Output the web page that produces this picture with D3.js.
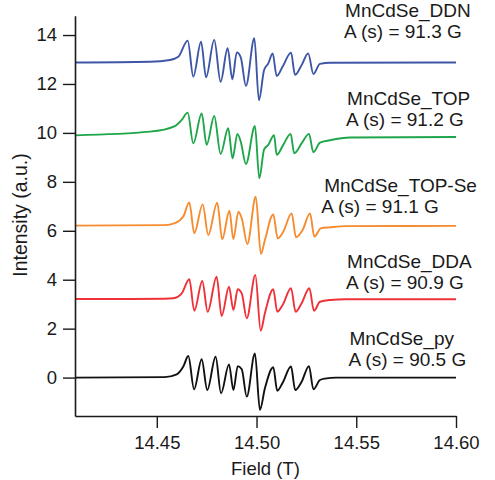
<!DOCTYPE html>
<html>
<head>
<meta charset="utf-8">
<script src="https://cdn.jsdelivr.net/npm/d3@7"></script>
<style>
  html, body { margin: 0; padding: 0; background: #fff; }
  svg { display: block; }
  text { font-family: "Liberation Sans", Arial, Helvetica, sans-serif; fill: #1a1a1a; }
</style>
</head>
<body>
<svg id="chart" width="495" height="480"></svg>
<script>
// EPR spectra of MnCdSe samples, [field (T), intensity (a.u.)], stacked with offsets
const specPy = [
  [14.409,0.00],[14.4540,0.02],[14.4600,0.13],[14.4633,0.45],[14.4658,0.88],[14.4687,-0.48],
  [14.4725,0.75],[14.4753,-0.51],[14.4795,0.85],[14.4822,-0.64],[14.4862,0.54],[14.4884,-0.51],
  [14.4906,0.47],[14.4926,0.34],[14.4951,-0.78],[14.4992,0.99],[14.5017,-1.32],[14.5042,-0.44],
  [14.5084,0.42],[14.5104,-0.54],[14.5131,-0.21],[14.5173,0.45],[14.5194,-0.51],[14.5226,-0.17],
  [14.5263,0.47],[14.5285,-0.48],[14.5318,-0.10],[14.5343,-0.04],[14.5400,0.00],[14.600,0.00]
];
const specDDA = [
  [14.409,3.21],[14.4540,3.22],[14.4583,3.24],[14.4625,3.44],[14.4663,4.02],[14.4688,2.73],
  [14.4728,3.95],[14.4755,2.69],[14.4800,4.12],[14.4825,2.52],[14.4862,3.71],[14.4884,2.76],
  [14.4906,3.61],[14.4926,3.44],[14.4951,2.42],[14.4994,4.19],[14.5021,1.92],[14.5042,2.63],
  [14.5084,3.61],[14.5104,2.69],[14.5131,2.97],[14.5173,3.65],[14.5196,2.69],[14.5226,3.04],
  [14.5265,3.65],[14.5288,2.73],[14.5318,3.10],[14.5368,3.17],[14.5450,3.20],[14.600,3.20]
];
const specTOPSe = [
  [14.409,6.21],[14.4540,6.23],[14.4591,6.31],[14.4633,6.58],[14.4663,7.16],[14.4688,5.90],
  [14.4730,7.08],[14.4758,5.83],[14.4803,7.15],[14.4828,5.65],[14.4864,6.82],[14.4884,5.65],
  [14.4909,6.78],[14.4926,6.51],[14.4954,5.46],[14.4996,7.39],[14.5022,5.05],[14.5042,5.62],
  [14.5084,6.67],[14.5106,5.69],[14.5134,5.96],[14.5176,6.71],[14.5198,5.73],[14.5231,6.03],
  [14.5268,6.71],[14.5290,5.76],[14.5322,6.10],[14.5368,6.14],[14.5450,6.19],[14.600,6.20]
];
const specTOP = [
  [14.409,9.90],[14.4466,10.05],[14.4591,10.28],[14.4625,10.53],[14.4655,10.83],[14.4683,9.57],
  [14.4725,10.80],[14.4750,9.51],[14.4788,10.69],[14.4820,9.14],[14.4858,10.19],[14.4880,8.96],
  [14.4904,9.96],[14.4921,9.64],[14.4947,8.73],[14.4992,10.28],[14.5014,8.14],[14.5038,9.33],
  [14.5059,9.51],[14.5088,9.91],[14.5101,9.10],[14.5134,9.51],[14.5171,9.96],[14.5189,9.17],
  [14.5226,9.57],[14.5263,9.96],[14.5285,9.21],[14.5318,9.60],[14.5368,9.70],[14.5470,9.81],
  [14.600,9.83]
];
const specDDN = [
  [14.409,12.88],[14.4466,12.91],[14.4566,12.98],[14.4608,13.11],[14.4655,13.77],[14.4683,12.30],
  [14.4722,13.73],[14.4747,12.27],[14.4788,13.80],[14.4820,12.09],[14.4855,13.46],[14.4879,12.19],
  [14.4901,13.29],[14.4921,13.09],[14.4947,11.92],[14.4989,13.87],[14.5012,11.34],[14.5038,12.57],
  [14.5059,12.84],[14.5081,13.25],[14.5101,12.32],[14.5131,12.71],[14.5173,13.28],[14.5193,12.37],
  [14.5226,12.77],[14.5259,13.25],[14.5285,12.41],[14.5318,12.82],[14.5368,12.87],[14.600,12.88]
];

const sampleNames = ["MnCdSe_DDN", "MnCdSe_TOP", "MnCdSe_TOP-Se", "MnCdSe_DDA", "MnCdSe_py"];
const couplings = [91.3, 91.2, 91.1, 90.9, 90.5];   // hyperfine splitting A (s), G
const seriesColors = ["#3d56a6", "#1fa64b", "#f68b2f", "#ee3238", "#111111"];
const spectra = [specDDN, specTOP, specTOPSe, specDDA, specPy];

const xTicks = [14.45, 14.50, 14.55, 14.60];
const yTicks = [0, 2, 4, 6, 8, 10, 12, 14];
const xDomain = [14.409, 14.60];
const yDomain = [-1.57, 14.79];

// label anchor points in data units (left edge of the first text line)
const labelPos = [
  [14.5444, 14.75], [14.5454, 11.13], [14.5339, 7.60], [14.5454, 4.46], [14.5466, 1.33]
];

const svg = d3.select("#chart");
const plotLeft = 75, plotRight = 456, plotTop = 15.7, plotBottom = 416;

const x = d3.scaleLinear().domain(xDomain).range([plotLeft, plotRight]);
const y = d3.scaleLinear().domain(yDomain).range([plotBottom, plotTop]);

const line = d3.line()
  .x(d => x(d[0]))
  .y(d => y(d[1]))
  .curve(d3.curveMonotoneX);

// spectra
svg.append("g")
  .selectAll("path")
  .data(spectra)
  .join("path")
  .attr("d", line)
  .attr("fill", "none")
  .attr("stroke", (d, i) => seriesColors[i])
  .attr("stroke-width", 1.9)
  .attr("stroke-linejoin", "round");

// axes
const xAxis = d3.axisBottom(x)
  .tickValues(xTicks)
  .tickFormat(d3.format(".2f"))
  .tickSize(12)
  .tickSizeOuter(0)
  .tickPadding(8);

const yAxis = d3.axisLeft(y)
  .tickValues(yTicks)
  .tickFormat(d3.format("d"))
  .tickSize(12)
  .tickSizeOuter(0)
  .tickPadding(6);

const gx = svg.append("g").attr("transform", `translate(0,${plotBottom})`).call(xAxis);
const gy = svg.append("g").attr("transform", `translate(${plotLeft},0)`).call(yAxis);

[gx, gy].forEach(g => {
  g.selectAll(".domain").attr("stroke", "#1a1a1a").attr("stroke-width", 1.6);
  g.selectAll(".tick line").attr("stroke", "#1a1a1a").attr("stroke-width", 1.4);
  g.selectAll(".tick text")
    .style("font-size", "18.5px")
    .style("font-family", '"Liberation Sans", Arial, sans-serif')
    .attr("fill", "#1a1a1a");
});

// axis titles
svg.append("text")
  .attr("x", (plotLeft + plotRight) / 2)
  .attr("y", 475)
  .attr("text-anchor", "middle")
  .style("font-size", "18.5px")
  .text("Field (T)");

svg.append("text")
  .attr("transform", "translate(27,215) rotate(-90)")
  .attr("text-anchor", "middle")
  .style("font-size", "19.5px")
  .text("Intensity (a.u.)");

// sample labels
const labels = svg.append("g")
  .selectAll("text")
  .data(sampleNames)
  .join("text")
  .attr("x", (d, i) => x(labelPos[i][0]))
  .attr("y", (d, i) => y(labelPos[i][1]))
  .style("font-size", "19px");

labels.append("tspan").text(d => d);
labels.append("tspan")
  .attr("x", (d, i) => x(labelPos[i][0]) - (i === 2 ? 3 : 1))
  .attr("dy", 21)
  .text((d, i) => `A (s) = ${couplings[i].toFixed(1)} G`);
</script>
</body>
</html>
